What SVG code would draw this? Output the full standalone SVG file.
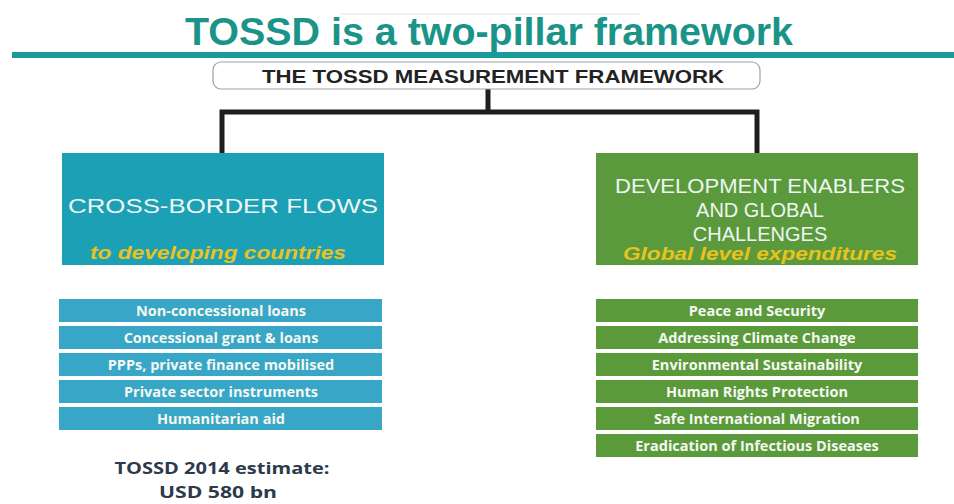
<svg xmlns="http://www.w3.org/2000/svg" width="954" height="504" viewBox="0 0 954 504">
  <defs>
    <style>
      .title { font-family: "Liberation Sans", Arial, sans-serif; font-weight: bold; font-size: 38px; fill: #1a9488; }
      .hdr { font-family: "Liberation Sans", Arial, sans-serif; font-weight: bold; font-size: 18px; fill: #222; }
      .pillar { font-family: "Liberation Sans", Arial, sans-serif; font-size: 20px; fill: #eef6f2; }
      .sub { font-family: "Liberation Sans", Arial, sans-serif; font-weight: bold; font-style: italic; font-size: 19px; fill: #e8c21e; }
      .item { font-family: "Open Sans", "Liberation Sans", sans-serif; font-weight: bold; font-size: 14.5px; fill: #f4f8f2; }
      .blue { fill: #38a6c6; }
      .green { fill: #5b9a3a; }
      .est { font-family: "Open Sans", "Liberation Sans", sans-serif; font-weight: bold; font-size: 16px; fill: #2c3a4c; }
      .conn { fill: none; stroke: #1e1e1e; stroke-width: 5; stroke-linejoin: miter; }
    </style>
  </defs>
  <rect width="954" height="504" fill="#ffffff"/>

  <g id="title">
    <line x1="340" y1="14" x2="640" y2="14" stroke="#e4e4e4" stroke-width="1"/>
    <text class="title" x="185" y="45" textLength="608" lengthAdjust="spacingAndGlyphs">TOSSD is a two-pillar framework</text>
    <rect x="12" y="52" width="942" height="6" fill="#1a9a98"/>
  </g>

  <g id="connectors">
    <path class="conn" d="M488,89 V112 M222,153 V112 H757 V153"/>
  </g>

  <g id="framework">
    <rect x="213" y="62" width="547" height="27" rx="8" fill="#ffffff" stroke="#a0a0a0" stroke-width="1.2"/>
    <text class="hdr" x="493" y="83" text-anchor="middle" textLength="462" lengthAdjust="spacingAndGlyphs">THE TOSSD MEASUREMENT FRAMEWORK</text>
  </g>

  <g id="cross-border">
    <rect x="62" y="153" width="322" height="112" fill="#1ca0b6"/>
    <text class="pillar" x="223" y="213" text-anchor="middle" textLength="310" lengthAdjust="spacingAndGlyphs">CROSS-BORDER FLOWS</text>
    <text class="sub" x="218" y="259" text-anchor="middle" textLength="256" lengthAdjust="spacingAndGlyphs">to developing countries</text>
  </g>

  <g id="enablers">
    <rect x="596" y="153" width="322" height="112" fill="#5a9a3c"/>
    <text class="pillar" x="760" y="193" text-anchor="middle" textLength="290" lengthAdjust="spacingAndGlyphs">DEVELOPMENT ENABLERS</text>
    <text class="pillar" x="760" y="217" text-anchor="middle">AND GLOBAL</text>
    <text class="pillar" x="760" y="241" text-anchor="middle">CHALLENGES</text>
    <text class="sub" x="760" y="260" text-anchor="middle" textLength="274" lengthAdjust="spacingAndGlyphs">Global level expenditures</text>
  </g>

  <g id="left-list">
    <g id="l1"><rect class="blue" x="59" y="299" width="323" height="23"/><text class="item" x="221" y="316" text-anchor="middle">Non-concessional loans</text></g>
    <g id="l2"><rect class="blue" x="59" y="326" width="323" height="23"/><text class="item" x="221" y="343" text-anchor="middle">Concessional grant &amp; loans</text></g>
    <g id="l3"><rect class="blue" x="59" y="353" width="323" height="23"/><text class="item" x="221" y="370" text-anchor="middle">PPPs, private finance mobilised</text></g>
    <g id="l4"><rect class="blue" x="59" y="380" width="323" height="23"/><text class="item" x="221" y="397" text-anchor="middle">Private sector instruments</text></g>
    <g id="l5"><rect class="blue" x="59" y="407" width="323" height="23"/><text class="item" x="221" y="424" text-anchor="middle">Humanitarian aid</text></g>
  </g>

  <g id="right-list">
    <g id="r1"><rect class="green" x="596" y="299" width="322" height="23"/><text class="item" x="757" y="316" text-anchor="middle">Peace and Security</text></g>
    <g id="r2"><rect class="green" x="596" y="326" width="322" height="23"/><text class="item" x="757" y="343" text-anchor="middle">Addressing Climate Change</text></g>
    <g id="r3"><rect class="green" x="596" y="353" width="322" height="23"/><text class="item" x="757" y="370" text-anchor="middle">Environmental Sustainability</text></g>
    <g id="r4"><rect class="green" x="596" y="380" width="322" height="23"/><text class="item" x="757" y="397" text-anchor="middle">Human Rights Protection</text></g>
    <g id="r5"><rect class="green" x="596" y="407" width="322" height="23"/><text class="item" x="757" y="424" text-anchor="middle">Safe International Migration</text></g>
    <g id="r6"><rect class="green" x="596" y="434" width="322" height="23"/><text class="item" x="757" y="451" text-anchor="middle">Eradication of Infectious Diseases</text></g>
  </g>

  <g id="estimate">
    <text class="est" x="222" y="474" text-anchor="middle" textLength="215" lengthAdjust="spacingAndGlyphs">TOSSD 2014 estimate:</text>
    <text class="est" x="218" y="498" text-anchor="middle" font-size="15" textLength="118" lengthAdjust="spacingAndGlyphs">USD 580 bn</text>
  </g>
</svg>
